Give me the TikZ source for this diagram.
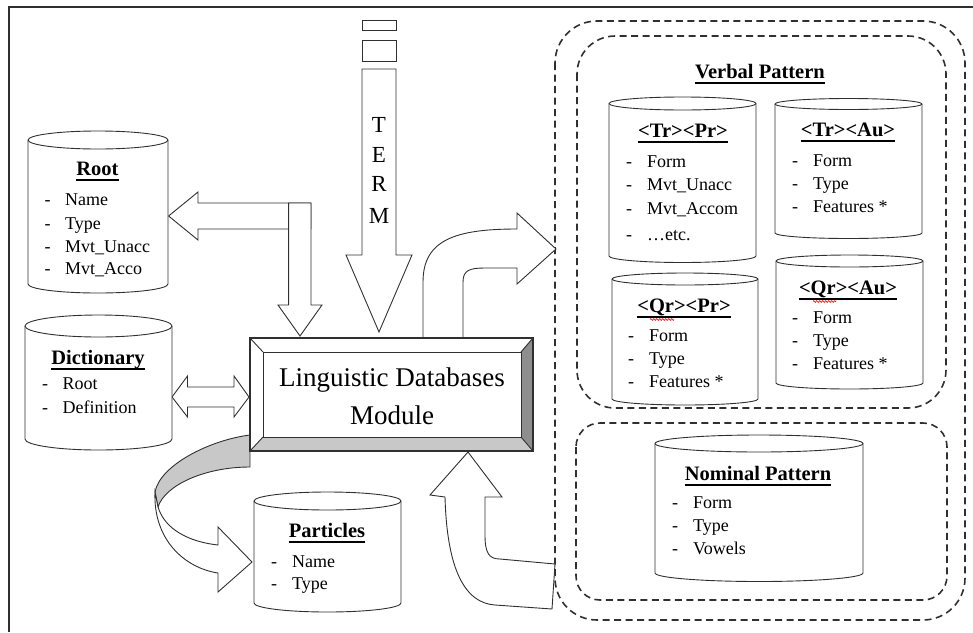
\documentclass[tikz,border=0pt]{standalone}
\usepackage{fontspec}
\setmainfont{Liberation Serif}
\usetikzlibrary{calc,decorations.pathmorphing}
\definecolor{lnc}{HTML}{303030}
\definecolor{bevdark}{HTML}{8E8E8E}
\definecolor{bevlight}{HTML}{C8C8C8}
\tikzset{
  shp/.style={draw=lnc, line width=0.9pt, fill=white, line join=miter},
  dashbox/.style={draw=lnc, line width=1.6pt, dash pattern=on 7pt off 4.5pt},
  itm/.style={anchor=base west, inner sep=0pt, font=\fontsize{18}{20}\selectfont},
  dsh/.style={anchor=base, inner sep=0pt, font=\fontsize{18}{20}\selectfont},
  ttl/.style={anchor=base, inner sep=0pt, font=\fontsize{20.5}{22}\selectfont\bfseries},
  big/.style={anchor=base, inner sep=0pt, font=\fontsize{27}{30}\selectfont},
  term/.style={anchor=base, inner sep=0pt, font=\fontsize{23}{25}\selectfont},
  squig/.style={draw=red, line width=0.6pt, decorate, decoration={zigzag, segment length=3pt, amplitude=0.9pt}},
}
\newcommand\ulx[1]{\setbox0\hbox{#1}\rlap{\copy0}\rlap{\raisebox{-6.2pt}{\rule{\wd0}{2.4pt}}}\hbox to\wd0{}}
\newcommand\dbcyl[5]{%
  \pgfmathsetmacro\cylrx{(#2-#1)/2}%
  \draw[shp] (#1,#3) -- (#1,#5) arc[start angle=180,end angle=0,x radius=\cylrx pt,y radius=#4pt]
     -- (#2,#3) arc[start angle=0,end angle=-180,x radius=\cylrx pt,y radius=#4pt] -- cycle;
  \draw[shp, fill=none] (#1,#3) arc[start angle=180,end angle=0,x radius=\cylrx pt,y radius=#4pt];
}
\newcommand\litem[5]{\node[dsh] (#1d) at (#2,#4) {-}; \node[itm] (#1) at (#3,#4) {#5};}
\begin{document}
\begin{tikzpicture}[x=1pt,y=1pt,yscale=-1]
\useasboundingbox (0,0) rectangle (973,632);
% frame
\draw[lnc, line width=1.8pt] (9,632) -- (9,7) -- (973,7);

% dashed groups
\draw[dashbox, rounded corners=42pt] (555,21) rectangle (965,620);
\draw[dashbox, rounded corners=38pt] (577,36) rectangle (946,408);
\draw[dashbox, rounded corners=24pt] (576,423) rectangle (947,600);

% TERM arrow
\draw[shp] (362,20) rectangle (396,30);
\draw[shp] (362,40) rectangle (396,61);
\draw[shp] (362,69) -- (396,69) -- (396,255) -- (412,255) -- (379,332) -- (346,255) -- (362,255) -- cycle;
\node[term] (tT) at (379,132) {T};
\node[term] (tE) at (379,162) {E};
\node[term] (tR) at (379,191) {R};
\node[term] (tM) at (379,223) {M};

% Root arrow (left + down)
\draw[shp] (168.6,216) -- (198,192) -- (198,203) -- (311,203) -- (311,229) -- (198,229) -- (198,240) -- cycle;
\draw[shp] (288.6,203) -- (311,203) -- (311,305) -- (322,305) -- (300,336) -- (278,305) -- (288.6,305) -- cycle;

% double arrow
\draw[shp] (172,397) -- (187.5,376) -- (187.5,387) -- (234,387) -- (234,376) -- (249,397)
   -- (234,417) -- (234,407) -- (187.5,407) -- (187.5,417) -- cycle;

% up-right arrow to verbal pattern
\draw[shp] (423,338) -- (423,282) .. controls (423,240) and (455,229) .. (517,229) -- (517,213) -- (556,249)
   -- (517,284) -- (517,268) -- (485,268) .. controls (470,268) and (463,270) .. (463,282) -- (463,338) -- cycle;

% bottom arrow up into module
\draw[shp] (468,452) -- (502,497) -- (485,497) -- (485,535) .. controls (485,553) and (489,559) .. (500,559)
   -- (555,564) -- (552,609) -- (495,605) .. controls (465,603) and (447,570) .. (445,497) -- (430,495) -- cycle;

% curved arrow to particles
\draw[shp, fill=bevlight] (250,435) .. controls (210,440) and (160,465) .. (155,492) -- (158,507)
   .. controls (165,485) and (205,467) .. (250,467) -- cycle;
\draw[shp] (155,492) .. controls (153,540) and (185,568) .. (218,573) -- (218,592) -- (252,562) -- (218,527)
   -- (218,545) .. controls (190,542) and (165,530) .. (158,507) -- cycle;

% module
\fill[white] (250,338) rectangle (533,451);
\fill[bevdark] (533,338) -- (533,451) -- (521,437) -- (521,352) -- cycle;
\fill[bevlight] (250,451) -- (533,451) -- (521,437) -- (263,437) -- cycle;
\draw[lnc, line width=1.1pt] (250,338) rectangle (533,451);
\draw[lnc, line width=0.9pt] (263,352) rectangle (521,437);
\draw[lnc, line width=0.9pt] (250,338) -- (263,352) (533,338) -- (521,352) (250,451) -- (263,437) (533,451) -- (521,437);
\node[big] (mod1) at (392,386) {Linguistic Databases};
\node[big] (mod2) at (392,424) {Module};

% Root
\dbcyl{28}{168}{140}{9}{284}
\node[ttl] (root) at (97.5,175) {\ulx{Root}};
\litem{rA}{47.5}{65}{205}{Name}
\litem{rB}{47.5}{65}{229}{Type}
\litem{rC}{47.5}{65}{252}{Mvt\_Unacc}
\litem{rD}{47.5}{65}{274}{Mvt\_Acco}

% Dictionary
\dbcyl{25}{172}{326}{11}{439}
\node[ttl] (dict) at (98,364) {\ulx{Dictionary}};
\litem{dA}{45}{62.5}{389}{Root}
\litem{dB}{45}{62.5}{413}{Definition}

% Particles
\dbcyl{254}{401}{501}{9}{603}
\node[ttl] (part) at (327,537) {\ulx{Particles}};
\litem{pA}{274}{292}{567}{Name}
\litem{pB}{274}{292}{589}{Type}

% Verbal pattern
\node[ttl] (verb) at (760,78) {\ulx{Verbal Pattern}};

\dbcyl{609}{756}{103.5}{6.5}{256}
\node[ttl] (trpr) at (683,137) {\ulx{<Tr><Pr>}};
\litem{aA}{629}{647}{167}{Form}
\litem{aB}{629}{647}{190}{Mvt\_Unacc}
\litem{aC}{629}{647}{214}{Mvt\_Accom}
\litem{aD}{629}{647}{240}{…etc.}

\dbcyl{775}{922}{104}{5.5}{233}
\node[ttl] (trau) at (848,136) {\ulx{<Tr><Au>}};
\litem{bA}{795}{813}{166}{Form}
\litem{bB}{795}{813}{189}{Type}
\litem{bC}{795}{813}{212}{Features *}

\dbcyl{612}{758}{279}{6}{399}
\node[ttl] (qrpr) at (684,312) {\ulx{<Qr><Pr>}};
\draw[squig] (650,319.5) -- (674,319.5);
\litem{cA}{631}{649}{341}{Form}
\litem{cB}{631}{649}{364}{Type}
\litem{cC}{631}{649}{387}{Features *}

\dbcyl{776}{923}{261}{6}{383}
\node[ttl] (qrau) at (848,294) {\ulx{<Qr><Au>}};
\draw[squig] (813,301.5) -- (836,301.5);
\litem{eA}{795}{813}{323}{Form}
\litem{eB}{795}{813}{346}{Type}
\litem{eC}{795}{813}{369}{Features *}

% Nominal pattern
\dbcyl{655}{863}{443.5}{8.5}{573}
\node[ttl] (nom) at (758,480) {\ulx{Nominal Pattern}};
\litem{nA}{675}{693}{508}{Form}
\litem{nB}{675}{693}{531}{Type}
\litem{nC}{675}{693}{554}{Vowels}
\end{tikzpicture}
\end{document}
